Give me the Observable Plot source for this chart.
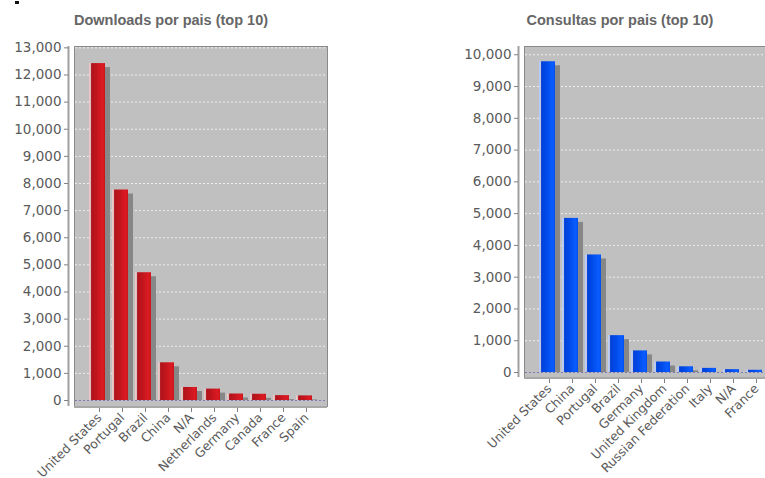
<!DOCTYPE html>
<html>
<head>
<meta charset="utf-8">
<script src="https://cdn.jsdelivr.net/npm/d3@7"></script>
<script src="https://cdn.jsdelivr.net/npm/@observablehq/plot@0.6"></script>
<style>
  html, body { margin: 0; padding: 0; background: #fff; width: 765px; height: 478px; overflow: hidden; position: relative; }
  .chart { position: absolute; top: 0; }
  .chart svg { max-width: none !important; }
  .title { position: absolute; font-family: "Liberation Sans", Arial, sans-serif; font-weight: bold; font-size: 14.5px; color: #666; white-space: nowrap; transform: translateX(-50%); }
  .dot { position: absolute; left: 15px; top: 1px; width: 4px; height: 3px; background: #111; }
</style>
</head>
<body>
<div class="dot"></div>
<div class="title" style="left:171px; top:12px;">Downloads por pais (top 10)</div>
<div class="title" style="left:620px; top:12px;">Consultas por pais (top 10)</div>
<div id="left" class="chart" style="left:0px; width:340px;"></div>
<div id="right" class="chart" style="left:400px; width:400px;"></div>
<script>
const dlCountries = ["United States", "Portugal", "Brazil", "China", "N/A", "Netherlands", "Germany", "Canada", "France", "Spain"];
const dlValues = [12420, 7760, 4710, 1390, 480, 420, 240, 230, 180, 170];
const dlTicks = [0, 1000, 2000, 3000, 4000, 5000, 6000, 7000, 8000, 9000, 10000, 11000, 12000, 13000];

const cqCountries = ["United States", "China", "Portugal", "Brazil", "Germany", "United Kingdom", "Russian Federation", "Italy", "N/A", "France"];
const cqValues = [9780, 4850, 3700, 1160, 680, 330, 180, 130, 90, 70];
const cqTicks = [0, 1000, 2000, 3000, 4000, 5000, 6000, 7000, 8000, 9000, 10000];

function makeChart({countries, values, ticks, yMax, gradId, stops, width, height, marginLeft, marginRight, marginTop, marginBottom, insetBottom}) {
  const data = countries.map((c, i) => ({country: c, value: values[i]}));
  const yAxisLine = (index, scales, vals, dims) => {
    const g = d3.create("svg:g");
    g.append("line")
      .attr("x1", dims.marginLeft - 0.5).attr("x2", dims.marginLeft - 0.5)
      .attr("y1", dims.marginTop).attr("y2", dims.height - dims.marginBottom)
      .attr("stroke", "#a0a0a0").attr("stroke-width", 2);
    return g.node();
  };
  const svg = Plot.plot({
    width, height, marginLeft, marginRight, marginTop, marginBottom,
    style: {background: "transparent", overflow: "visible", maxWidth: "none"},
    x: {type: "band", domain: countries, paddingInner: 0.3, paddingOuter: 0.6, insetLeft: 5, label: null},
    y: {domain: [0, yMax], insetBottom, label: null},
    marks: [
      Plot.frame({fill: "#c0c0c0", stroke: "#8a8a8a", insetLeft: 5, insetBottom: 0}),
      Plot.ruleY(ticks.filter(d => d > 0), {stroke: "#ffffff", strokeOpacity: 0.75, strokeDasharray: "2,2", insetLeft: 6, insetRight: 1}),
      Plot.ruleY([0], {stroke: "#7b7bb8", strokeDasharray: "2,2", insetLeft: 6, insetRight: 1}),
      Plot.barY(data, {x: "country", y: "value", fill: "#878787", dx: 5, insetTop: 4}),
      Plot.barY(data, {x: "country", y: "value", fill: `url(#${gradId})`}),
      Plot.ruleY([0], {stroke: "#a8a8a8", strokeWidth: 2, dy: insetBottom + 0.5, insetLeft: 5}),
      yAxisLine,
      Plot.axisY({ticks, tickFormat: d3.format(","), tickSize: 4, tickPadding: 3, stroke: "#808080", fill: "#5a5a5a", fontSize: 13.5, fontFamily: "DejaVu Sans", style: {letterSpacing: "0.6px"}, dx: -1}),
      Plot.axisX({tickSize: 4, tickPadding: 3, tickRotate: -45, stroke: "#808080", fill: "#5a5a5a", fontSize: 12.5, fontFamily: "DejaVu Sans", dy: 2, dx: 2})
    ]
  });
  const defs = d3.select(svg).insert("defs", ":first-child");
  const grad = defs.append("linearGradient").attr("id", gradId).attr("x1", "0").attr("x2", "1").attr("y1", "0").attr("y2", "0");
  stops.forEach(([o, c]) => grad.append("stop").attr("offset", o).attr("stop-color", c));
  return svg;
}

const redStops = [["0", "#f4c4c4"], ["0.08", "#f4c4c4"], ["0.1", "#c8c0c0"], ["0.16", "#b0141c"], ["0.45", "#c0151d"], ["0.85", "#dc1a22"], ["1", "#c8161e"]];
const blueStops = [["0", "#b8ccff"], ["0.08", "#b8ccff"], ["0.1", "#c0c4d0"], ["0.16", "#0040d8"], ["0.45", "#004ae8"], ["0.85", "#0a5cff"], ["1", "#0050f0"]];

document.getElementById("left").appendChild(makeChart({
  countries: dlCountries, values: dlValues, ticks: dlTicks, yMax: 13050, gradId: "gradRed", stops: redStops,
  width: 340, height: 478, marginLeft: 69, marginRight: 13, marginTop: 46, marginBottom: 72, insetBottom: 6
}));

document.getElementById("right").appendChild(makeChart({
  countries: cqCountries, values: cqValues, ticks: cqTicks, yMax: 10260, gradId: "gradBlue", stops: blueStops,
  width: 400, height: 478, marginLeft: 119, marginRight: 23, marginTop: 46, marginBottom: 101, insetBottom: 5
}));
</script>
</body>
</html>
